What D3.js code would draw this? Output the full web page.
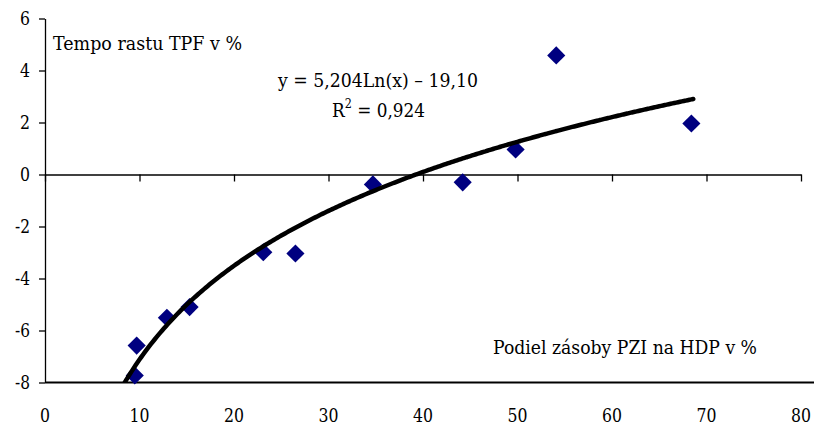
<!DOCTYPE html>
<html>
<head>
<meta charset="utf-8">
<script src="https://cdn.jsdelivr.net/npm/d3@7"></script>
<style>
  body { margin: 0; background: #fff; }
  svg text { font-family: "DejaVu Serif", serif; fill: #000; }
</style>
</head>
<body>
<script>
// data
const podielPZI = [9.5, 9.7, 12.9, 15.3, 23.1, 26.5, 34.7, 44.2, 49.8, 54.1, 68.4];
const tempoTPF = [-7.73, -6.58, -5.51, -5.10, -2.99, -3.04, -0.38, -0.30, 0.96, 4.58, 1.96];
const xTicks = [0, 10, 20, 30, 40, 50, 60, 70, 80];
const yTicks = [-8, -6, -4, -2, 0, 2, 4, 6];
// logarithmic trend line as printed in the chart
const trendA = 5.204, trendB = -19.10;
const trendRange = [8.0, 68.6];

var width = 814, height = 426;
var svg = d3.select("body").append("svg")
    .attr("width", width).attr("height", height);

var x = d3.scaleLinear().domain([0, 80]).range([45, 801]);
var y = d3.scaleLinear().domain([-8, 6]).range([382.5, 18.5]);

// bottom border line
svg.append("line")
    .attr("x1", 45).attr("x2", width)
    .attr("y1", y(-8)).attr("y2", y(-8))
    .attr("stroke", "#000").attr("stroke-width", 2);

// y axis
var yAxis = svg.append("g")
    .attr("transform", "translate(" + x(0) + ",0)")
    .call(d3.axisLeft(y).tickValues(yTicks).tickSize(6).tickSizeOuter(0).tickFormat(""));
yAxis.select(".domain").attr("stroke", "#000").attr("stroke-width", 1.3);
yAxis.selectAll(".tick line").attr("stroke", "#000").attr("stroke-width", 1.3);

svg.append("g").selectAll("text")
    .data(yTicks).enter().append("text")
    .attr("x", 30).attr("y", d => y(d))
    .attr("dy", "0.35em")
    .attr("text-anchor", "end")
    .attr("font-size", 18)
    .attr("textLength", d => d < 0 ? 15 : 10).attr("lengthAdjust", "spacingAndGlyphs")
    .text(d => d < 0 ? "-" + Math.abs(d) : d);

// x axis at y = 0, labels at the bottom
var xAxis = svg.append("g")
    .attr("transform", "translate(0," + y(0) + ")")
    .call(d3.axisBottom(x).tickValues(xTicks).tickSize(7).tickSizeOuter(0).tickFormat(""));
xAxis.select(".domain").attr("stroke", "#000").attr("stroke-width", 1.3);
xAxis.selectAll(".tick line").attr("stroke", "#000").attr("stroke-width", 1.3);

svg.append("g").selectAll("text")
    .data(xTicks).enter().append("text")
    .attr("x", d => x(d)).attr("y", 422)
    .attr("text-anchor", "middle")
    .attr("font-size", 18)
    .attr("textLength", d => String(d).length * 10).attr("lengthAdjust", "spacingAndGlyphs")
    .text(d => d);

// trend line
svg.append("clipPath").attr("id", "plotclip")
    .append("rect").attr("x", x(0)).attr("y", 0)
    .attr("width", width - x(0)).attr("height", y(-8));

var trendX = d3.range(trendRange[0], trendRange[1], 0.2).concat([trendRange[1]]);
var line = d3.line()
    .x(d => x(d))
    .y(d => y(trendA * Math.log(d) + trendB))
    .curve(d3.curveMonotoneX);

// points
var diamond = d3.symbol().type(d3.symbolDiamond2).size(210);
svg.append("g").selectAll("path")
    .data(podielPZI).enter().append("path")
    .attr("d", diamond)
    .attr("transform", (d, i) => "translate(" + x(d) + "," + y(tempoTPF[i]) + ")")
    .attr("fill", "#000080");

svg.append("path")
    .datum(trendX)
    .attr("d", line)
    .attr("clip-path", "url(#plotclip)")
    .attr("fill", "none")
    .attr("stroke", "#000")
    .attr("stroke-width", 4.5)
    .attr("stroke-linecap", "round");

// labels
svg.append("text").attr("x", 53).attr("y", 50)
    .attr("font-size", 18).attr("textLength", 189).attr("lengthAdjust", "spacingAndGlyphs")
    .text("Tempo rastu TPF v %");

svg.append("text").attr("x", 378).attr("y", 87)
    .attr("text-anchor", "middle")
    .attr("font-size", 18).attr("textLength", 200).attr("lengthAdjust", "spacingAndGlyphs")
    .text("y = 5,204Ln(x) \u2013 19,10");

var r2 = svg.append("text").attr("x", 332).attr("y", 117)
    .attr("font-size", 18).attr("textLength", 93).attr("lengthAdjust", "spacingAndGlyphs");
r2.append("tspan").text("R");
r2.append("tspan").attr("dy", -9).attr("font-size", 12).text("2");
r2.append("tspan").attr("dy", 9).text(" = 0,924");

svg.append("text").attr("x", 493).attr("y", 354)
    .attr("font-size", 18).attr("textLength", 264).attr("lengthAdjust", "spacingAndGlyphs")
    .text("Podiel zásoby PZI na HDP v %");
</script>
</body>
</html>
